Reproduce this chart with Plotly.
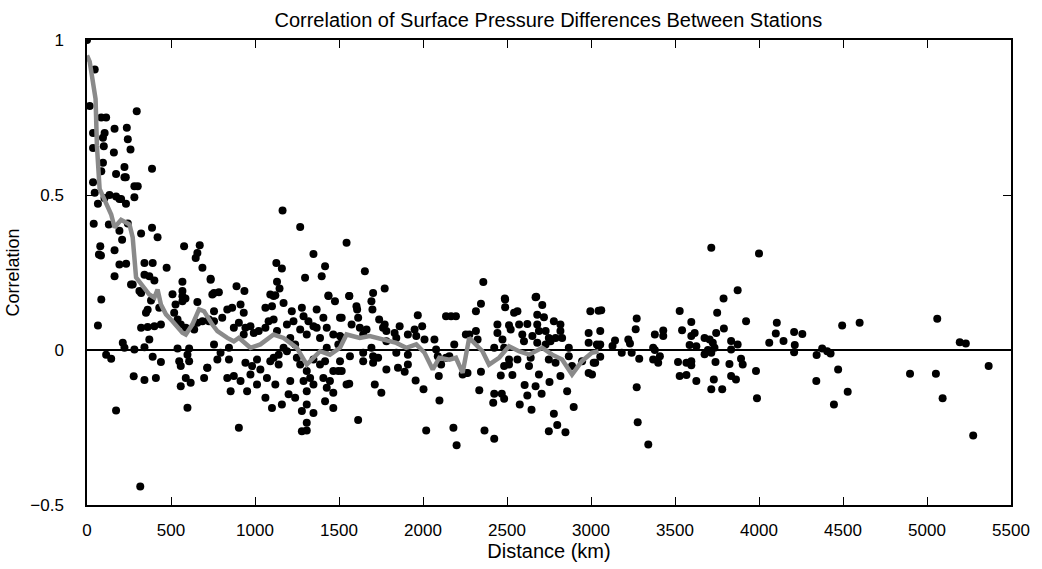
import plotly.graph_objects as go

# Station-pair scatter: separation distance (km) vs. correlation of pressure differences
dist_km = [
    0, 46, 16, 296, 114, 85, 164, 237, 36, 105, 243, 95, 100, 36, 160, 259, 95, 387, 223, 85,
    173, 223, 231, 36, 282, 302, 46, 134, 173, 203, 282, 65, 104, 193, 232,
    40, 130, 243, 322, 387, 420, 193, 209, 79, 164, 71, 83, 578, 671, 657, 647, 193, 233,
    342, 391, 474, 687, 164, 342, 371, 401, 262, 272, 568, 736, 312, 322, 509, 568, 568,
    85, 381, 527, 568, 586, 657, 430, 746, 351, 361, 519, 539, 558, 65, 322, 361, 401, 440,
    588, 638, 657, 687, 726, 371, 213, 223, 282, 342, 539, 608, 114, 144, 391, 440, 549,
    558, 608, 598, 716, 697, 278, 342, 410, 558, 588, 617, 173, 598, 317,
    # 700-1500 km
    756, 805, 835, 864, 914, 933, 874, 756, 716, 776, 845, 904, 943, 973, 993, 933, 1022,
    1062, 1081, 1111, 1062, 1101, 1111, 1170, 1219, 1229, 1279, 1289, 1318, 1367, 1407,
    1427, 1437, 1476, 1506, 1348, 1308, 1269, 1190, 1131, 1210, 1239, 1190, 1111, 1141,
    1091, 1141, 1170, 1249, 1269, 1308, 1328, 1289, 1308, 1348, 1407, 1446, 1466, 1427,
    1466, 1496, 1417, 1387, 1348, 1427, 1387, 1466, 1496, 1367, 943, 973, 874, 835, 914,
    855, 953, 1012, 1071, 1032, 1121, 1062, 1101, 1160, 1210, 1239, 1200, 1279, 1348,
    1308, 1417, 1466, 1308, 1279, 1308, 904, 845, 1012, 983, 795, 726, 756,
    1164, 1269, 1348, 1417, 1397, 1298, 1127, 1160, 1131, 1146, 1091, 1121, 1437, 890,
    937, 756, 785, 736,
    # 1500-2300 km
    1545, 1654, 1561, 1703, 1772, 1561, 1604, 1608, 1693, 1699, 1516, 1614, 1575, 1739,
    1772, 1762, 1861, 1969, 1995, 2137, 2167, 2196, 1506, 1516, 1624, 1664, 1644, 1782,
    1782, 1831, 1841, 1910, 1950, 1960, 2009, 2068, 2255, 2186, 2078, 1565, 1644, 1644,
    1693, 1703, 1733, 1703, 1841, 1910, 1910, 1506, 1516, 1782, 1851, 1891, 2088, 2108,
    2137, 2157, 2236, 2265, 2094, 1956, 1545, 1561, 1713, 1752, 2003, 2098, 1614, 2019,
    2181, 2200,
    # 2300-3050 km
    2359, 2487, 2674, 2345, 2315, 2489, 2489, 2670, 2710, 2562, 2542, 2680, 2720, 2779,
    2818, 2996, 3045, 2443, 2443, 2512, 2522, 2572, 2621, 2591, 2651, 2680, 2690, 2730,
    2749, 2789, 2818, 2828, 2730, 2759, 2315, 2276, 2325, 2473, 2483, 2601, 2680, 2986,
    2986, 3035, 2868, 2868, 2424, 2512, 2562, 2641, 2749, 2789, 2483, 2512, 2631, 2256,
    2345, 2947, 3016, 2986, 3006, 2887, 2463, 2532, 2690, 2818, 2335, 2605, 2670, 2621,
    2706, 2753, 2858, 2424, 2469, 2483, 2418, 2576, 2646, 2897, 2779, 2366, 2424, 2749,
    2799, 2848,
    # beyond 3050 km
    3716, 4000, 3873, 3789, 3751, 3923, 3791, 3061, 3272, 3266, 3528, 3542, 3597, 3055,
    3143, 3128, 3222, 3232, 3055, 3045, 3380, 3430, 3430, 3617, 3597, 3587, 3627, 3676,
    3706, 3725, 3745, 3735, 3696, 3676, 3716, 3834, 3873, 3834, 3183, 3242, 3370, 3380,
    3410, 3370, 3400, 3287, 3055, 3025, 3518, 3568, 3597, 3597, 3528, 3568, 3627, 3741,
    3824, 3893, 3903, 3834, 3863, 3731, 3716, 3781, 3982, 3988, 3272, 3278, 3341,
    4106, 4100, 4061, 4146, 4209, 4258, 4213, 4209, 4343, 4376, 4406, 4426, 4495, 4599,
    4471, 4341, 4528, 4446, 4899, 5053, 5061, 5093, 5195, 5231, 5367, 5275,
]

correlation = [
    1.0, 0.905, 0.787, 0.77, 0.75, 0.75, 0.714, 0.717, 0.70, 0.70, 0.68, 0.685, 0.657, 0.652,
    0.637, 0.647, 0.604, 0.585, 0.59, 0.577, 0.568, 0.557, 0.557, 0.541, 0.528, 0.528, 0.507,
    0.50, 0.495, 0.487, 0.493, 0.472, 0.49, 0.487, 0.472,
    0.407, 0.405, 0.408, 0.376, 0.394, 0.364, 0.385, 0.356, 0.335, 0.322, 0.308, 0.305,
    0.335, 0.338, 0.313, 0.297, 0.276, 0.278, 0.281, 0.281, 0.265, 0.265, 0.238, 0.243,
    0.238, 0.224, 0.211, 0.211, 0.22, 0.227, 0.19, 0.184, 0.18, 0.19, 0.173, 0.163, 0.16,
    0.147, 0.157, 0.166, 0.155, 0.136, 0.179, 0.12, 0.13, 0.12, 0.098, 0.082, 0.079, 0.072,
    0.074, 0.077, 0.082, 0.072, 0.066, 0.088, 0.093, 0.098, 0.034, 0.023, 0.007, 0.002,
    0.009, 0.005, 0.005, -0.015, -0.028, -0.022, -0.039, -0.036, -0.052, -0.036, -0.015,
    -0.057, -0.09, -0.085, -0.097, -0.09, -0.117, -0.09, -0.106, -0.195, -0.186, -0.44,
    # 700-1500 km
    0.125, 0.104, 0.131, 0.136, 0.147, 0.120, 0.072, 0.018, -0.057, -0.031, 0.007, 0.088,
    0.072, 0.077, 0.055, 0.050, 0.061, 0.072, 0.093, 0.098, 0.136, 0.141, 0.174, 0.152,
    0.125, 0.093, 0.136, 0.109, 0.093, 0.131, 0.104, 0.072, 0.174, 0.157, 0.104, 0.077,
    0.050, 0.066, 0.082, 0.061, 0.039, 0.018, -0.004, -0.025, -0.047, -0.036, -0.015,
    0.007, -0.025, -0.047, -0.068, -0.090, -0.100, -0.133, -0.111, -0.090, -0.100, -0.138,
    -0.122, -0.068, -0.068, -0.036, -0.047, -0.031, 0.007, 0.039, 0.050, 0.018, 0.072,
    -0.041, -0.079, -0.084, -0.090, -0.100, -0.133, -0.133, -0.111, -0.090, -0.063,
    -0.111, -0.154, -0.187, -0.176, -0.100, -0.154, -0.143, -0.197, -0.203, -0.176,
    -0.165, -0.187, -0.235, -0.262, -0.260, -0.251, -0.031, -0.031, -0.052, -0.009,
    0.093, 0.093,
    0.450, 0.397, 0.310, 0.270, 0.238, 0.233, 0.281, 0.263, 0.220, 0.198, 0.179, 0.177,
    0.176, 0.206, 0.190, 0.184, 0.186, 0.230,
    # 1500-2300 km
    0.346, 0.254, 0.174, 0.184, 0.198, 0.174, 0.141, 0.131, 0.157, 0.131, 0.104, 0.104,
    0.082, 0.098, 0.082, 0.072, 0.077, 0.112, 0.077, 0.109, 0.109, 0.109, 0.045, 0.039,
    0.072, 0.066, 0.050, 0.061, 0.028, 0.055, 0.039, 0.050, 0.066, 0.045, 0.034, 0.034,
    0.050, 0.018, 0.002, -0.020, -0.009, -0.036, 0.007, -0.020, -0.025, -0.041, -0.009,
    -0.015, -0.047, -0.036, -0.068, -0.063, -0.057, -0.070, -0.020, -0.047, -0.025,
    -0.020, -0.079, -0.074, -0.084, -0.098, -0.111, -0.109, -0.111, -0.138, -0.127,
    -0.163, -0.226, -0.260, -0.251, -0.307,
    # 2300-3050 km
    0.219, 0.166, 0.172, 0.149, 0.125, 0.163, 0.138, 0.170, 0.145, 0.125, 0.120, 0.114,
    0.106, 0.093, 0.082, 0.125, 0.127, 0.082, 0.055, 0.080, 0.066, 0.082, 0.084, 0.050,
    0.045, 0.082, 0.061, 0.061, 0.039, 0.039, 0.061, 0.039, 0.018, 0.028, 0.061, 0.050,
    0.034, 0.034, 0.007, 0.028, 0.023, 0.055, 0.023, 0.018, 0.007, -0.020, 0.007, -0.031,
    -0.031, -0.025, -0.031, -0.041, -0.052, -0.047, -0.052, -0.074, -0.070, -0.036,
    -0.041, -0.074, -0.079, -0.052, -0.082, -0.081, -0.079, -0.084, -0.130, -0.113,
    -0.117, -0.147, -0.141, -0.103, -0.133, -0.141, -0.141, -0.157, -0.170, -0.176,
    -0.193, -0.184, -0.206, -0.260, -0.286, -0.262, -0.242, -0.265,
    # beyond 3050 km
    0.330, 0.311, 0.193, 0.166, 0.120, 0.093, 0.069, 0.128, 0.102, 0.067, 0.126, 0.064,
    0.090, 0.061, 0.031, 0.013, 0.034, 0.021, 0.018, 0.012, 0.050, 0.063, 0.045, 0.055,
    0.045, 0.016, 0.012, 0.039, 0.034, 0.023, 0.055, 0.007, 0.0, -0.014, -0.009, 0.029,
    0.018, 0.002, -0.009, -0.009, 0.007, 0.0, -0.020, -0.031, -0.041, -0.028, -0.022,
    -0.041, -0.039, -0.041, -0.036, -0.049, -0.084, -0.081, -0.100, -0.039, -0.045,
    -0.028, -0.047, -0.084, -0.095, -0.095, -0.127, -0.127, -0.068, -0.156, -0.120,
    -0.233, -0.305,
    0.088, 0.053, 0.023, 0.029, 0.058, 0.052, 0.016, -0.007, -0.016, 0.005, -0.004,
    -0.011, 0.079, 0.088, -0.063, -0.100, -0.135, -0.176, -0.077, -0.077, 0.101, -0.156,
    0.025, 0.021, -0.052, -0.276,
]

# Running mean of correlation against distance
mean_km = [
    0, 16, 51, 59, 75, 112, 144, 164, 203, 253, 272, 292, 322, 371, 401, 420, 440, 470,
    509, 568, 588, 627, 667, 697, 746, 776, 835, 874, 904, 973, 1032, 1111, 1170, 1249,
    1308, 1348, 1387, 1446, 1506, 1545, 1624, 1683, 1762, 1841, 1900, 1960, 2009, 2058,
    2097, 2157, 2196, 2236, 2275, 2295, 2354, 2393, 2453, 2512, 2571, 2631, 2710, 2769,
    2828, 2887, 2946, 3005, 3045,
]
mean_corr = [
    0.95, 0.93, 0.81, 0.66, 0.52, 0.476, 0.437, 0.395, 0.42, 0.405, 0.363, 0.234, 0.211,
    0.179, 0.169, 0.195, 0.147, 0.115, 0.093, 0.056, 0.05, 0.082, 0.131, 0.125, 0.082,
    0.061, 0.039, 0.028, 0.039, 0.007, 0.018, 0.05, 0.039, 0.007, -0.047, -0.025, -0.004,
    -0.015, 0.007, 0.05, 0.039, 0.045, 0.034, 0.023, 0.007, 0.018, -0.009, -0.063, -0.025,
    -0.031, -0.025, -0.074, 0.039, 0.028, -0.004, -0.047, -0.025, 0.012, -0.004, -0.015,
    0.007, -0.015, -0.031, -0.079, -0.036, -0.009, -0.004,
]

x_ticks = [0, 500, 1000, 1500, 2000, 2500, 3000, 3500, 4000, 4500, 5000, 5500]
y_ticks = [-0.5, 0, 0.5, 1]
y_tick_text = ["\u22120.5", "0", "0.5", "1"]

font_family = "Liberation Sans, Arial, sans-serif"

fig = go.Figure()
fig.add_trace(go.Scatter(
    x=dist_km, y=correlation, mode="markers",
    marker=dict(color="black", size=8, line=dict(width=0)),
    showlegend=False, hoverinfo="x+y",
))
fig.add_trace(go.Scatter(
    x=mean_km, y=mean_corr, mode="lines",
    line=dict(color="#8a8a8a", width=4.5),
    showlegend=False, hoverinfo="x+y",
))

fig.update_layout(
    width=1042, height=569,
    margin=dict(l=84, r=29, t=40, b=64),
    paper_bgcolor="white", plot_bgcolor="white",
    font=dict(family=font_family, size=16, color="black"),
    title=dict(
        text="Correlation of Surface Pressure Differences Between Stations",
        x=0.5262, xanchor="center", y=0.965, yanchor="middle",
        font=dict(size=20),
    ),
)
fig.update_xaxes(
    range=[0, 5500], tickvals=x_ticks, ticktext=[str(t) for t in x_ticks],
    ticks="inside", ticklen=8, tickwidth=1, tickcolor="black",
    showline=True, linecolor="black", linewidth=1.5, mirror="ticks",
    showgrid=False, zeroline=False, ticklabelstandoff=9,
    tickfont=dict(size=17),
    title=dict(text="Distance (km)", standoff=1, font=dict(size=20)),
)
fig.update_yaxes(
    range=[-0.5, 1], tickvals=y_ticks, ticktext=y_tick_text,
    ticks="inside", ticklen=8, tickwidth=1, tickcolor="black",
    showline=True, linecolor="black", linewidth=1.5, mirror="ticks",
    showgrid=False, zeroline=True, zerolinecolor="black", zerolinewidth=1.5,
    ticklabelstandoff=18, tickfont=dict(size=17),
    title=dict(text="Correlation", standoff=6, font=dict(size=18)),
)

fig.write_html("out.html")
